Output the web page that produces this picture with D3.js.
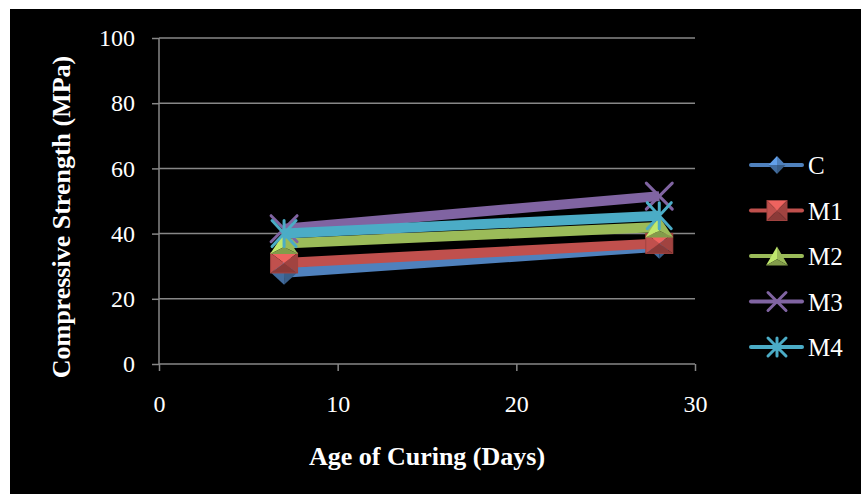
<!DOCTYPE html>
<html>
<head>
<meta charset="utf-8">
<script src="https://cdn.jsdelivr.net/npm/d3@7/dist/d3.min.js"></script>
<style>
  html, body { margin: 0; padding: 0; background: #fff; }
  svg { display: block; }
</style>
</head>
<body>
<svg id="chart" width="861" height="494"></svg>
<script>
// Curing age (days) on the x axis
const days = [7, 28];
// Compressive strength (MPa) per mix
const seriesNames = ["C", "M1", "M2", "M3", "M4"];
const valuesC  = [28, 36];
const valuesM1 = [31, 37];
const valuesM2 = [37, 42];
const valuesM3 = [41.5, 51.5];
const valuesM4 = [40, 45.5];
// Axis ticks
const xTicks = [0, 10, 20, 30];
const yTicks = [0, 20, 40, 60, 80, 100];

const seriesValues = [valuesC, valuesM1, valuesM2, valuesM3, valuesM4];
const seriesColors = ["#4F81BD", "#C0504D", "#9BBB59", "#8064A2", "#4BACC6"];
const markerKinds = ["diamond", "square", "triangle", "cross", "star"];

const svg = d3.select("#chart");

// Black chart area inside a thin white margin
svg.append("rect").attr("x", 10).attr("y", 9).attr("width", 851).attr("height", 485).attr("fill", "#000");

const x = d3.scaleLinear().domain([0, 30]).range([159, 695]);
const y = d3.scaleLinear().domain([0, 100]).range([364, 38]);

const gridColor = "#878787";
const font = "'Liberation Serif', 'Times New Roman', serif";

// Horizontal gridlines
svg.append("g").selectAll("line").data(yTicks.filter(d => d > 0)).join("line")
  .attr("x1", x(0)).attr("x2", x(30))
  .attr("y1", d => y(d)).attr("y2", d => y(d))
  .attr("stroke", gridColor).attr("stroke-width", 1.5);

// Y axis
const yAxis = svg.append("g").attr("transform", `translate(${x(0)},0)`)
  .call(d3.axisLeft(y).tickValues(yTicks).tickSize(7).tickPadding(17));
yAxis.select(".domain").attr("stroke", gridColor).attr("stroke-width", 1.5).attr("d", `M-0,${y(100)}V${y(0)}`);
yAxis.selectAll(".tick line").attr("stroke", gridColor).attr("stroke-width", 1.5);
yAxis.selectAll(".tick text").attr("fill", "#fff").style("font-family", font).style("font-size", "24px");

// X axis
const xAxis = svg.append("g").attr("transform", `translate(0,${y(0)})`)
  .call(d3.axisBottom(x).tickValues(xTicks).tickSize(7).tickPadding(24));
xAxis.select(".domain").attr("stroke", gridColor).attr("stroke-width", 1.5).attr("d", `M${x(0)},0H${x(30)}`);
xAxis.selectAll(".tick line").attr("stroke", gridColor).attr("stroke-width", 1.5);
xAxis.selectAll(".tick text").attr("fill", "#fff").style("font-family", font).style("font-size", "24px")
  .attr("dy", "0.71em");

// Axis titles
svg.append("text").attr("x", (x(0) + x(30)) / 2).attr("y", 465)
  .attr("text-anchor", "middle").attr("fill", "#fff")
  .style("font-family", font).style("font-size", "26px").style("font-weight", "bold")
  .text("Age of Curing (Days)");
svg.append("text").attr("transform", "translate(70,217) rotate(-90)")
  .attr("text-anchor", "middle").attr("fill", "#fff")
  .style("font-family", font).style("font-size", "26px").style("font-weight", "bold")
  .text("Compressive Strength (MPa)");

// Colour shades for the bevelled markers
function shades(c) {
  const base = d3.color(c);
  return {
    light: base.brighter(0.6).formatHex(),
    mid: base.formatHex(),
    dark: base.darker(0.5).formatHex(),
    darker: base.darker(0.9).formatHex()
  };
}

// Draw one marker centred at (cx, cy) with width w and height h
function drawMarker(g, kind, color, cx, cy, w, h) {
  const s = shades(color);
  const hw = w / 2, hh = h / 2;
  const m = g.append("g").attr("transform", `translate(${cx},${cy})`);
  const facet = (pts, fill) => m.append("path").attr("d", "M" + pts.map(p => p.join(",")).join("L") + "Z").attr("fill", fill);
  if (kind === "diamond") {
    facet([[0, -hh], [0, 0], [-hw, 0]], s.light);
    facet([[0, -hh], [hw, 0], [0, 0]], s.mid);
    facet([[-hw, 0], [0, 0], [0, hh]], s.dark);
    facet([[0, 0], [hw, 0], [0, hh]], s.darker);
  } else if (kind === "square") {
    facet([[-hw, -hh], [hw, -hh], [0, 0]], s.light);
    facet([[-hw, -hh], [0, 0], [-hw, hh]], s.mid);
    facet([[hw, -hh], [hw, hh], [0, 0]], s.dark);
    facet([[-hw, hh], [0, 0], [hw, hh]], s.darker);
    m.append("rect").attr("x", -hw).attr("y", -hh).attr("width", w).attr("height", h)
      .attr("fill", "none").attr("stroke", s.dark).attr("stroke-width", 1);
  } else if (kind === "triangle") {
    facet([[0, -hh], [0, hh * 0.35], [-hw, hh]], s.light);
    facet([[0, -hh], [hw, hh], [0, hh * 0.35]], s.mid);
    facet([[-hw, hh], [0, hh * 0.35], [hw, hh]], s.dark);
  } else if (kind === "cross") {
    m.append("path").attr("d", `M${-hw},${-hh}L${hw},${hh}M${hw},${-hh}L${-hw},${hh}`)
      .attr("stroke", color).attr("stroke-width", 3).attr("stroke-linecap", "round");
  } else if (kind === "star") {
    m.append("path").attr("d", `M${-hw},${-hh}L${hw},${hh}M${hw},${-hh}L${-hw},${hh}M0,${-hh}L0,${hh}`)
      .attr("stroke", color).attr("stroke-width", 3).attr("stroke-linecap", "round");
  }
}

const markerSize = {
  diamond: [26, 24], square: [27, 20], triangle: [28, 21], cross: [26, 26], star: [24, 26]
};

const line = d3.line().x(d => x(d[0])).y(d => y(d[1]));

// Series: line, then its markers
seriesNames.forEach((name, i) => {
  const g = svg.append("g").attr("class", "series-" + name);
  const pts = days.map((d, j) => [d, seriesValues[i][j]]);
  g.append("path").attr("d", line(pts)).attr("fill", "none")
    .attr("stroke", seriesColors[i]).attr("stroke-width", 10);
  pts.forEach(p => {
    const [w, h] = markerSize[markerKinds[i]];
    drawMarker(g, markerKinds[i], seriesColors[i], x(p[0]), y(p[1]), w, h);
  });
});

// Legend
const legendSize = {
  diamond: [17, 18], square: [20, 20], triangle: [22, 19], cross: [18, 18], star: [18, 18]
};
const legendY = d3.scaleLinear().domain([0, 4]).range([165, 347]);
seriesNames.forEach((name, i) => {
  const ly = legendY(i);
  const g = svg.append("g");
  g.append("line").attr("x1", 751).attr("x2", 802).attr("y1", ly).attr("y2", ly)
    .attr("stroke", seriesColors[i]).attr("stroke-width", 4).attr("stroke-linecap", "round");
  const [w, h] = legendSize[markerKinds[i]];
  drawMarker(g, markerKinds[i], seriesColors[i], 777, ly, w, h);
  g.append("text").attr("x", 808).attr("y", ly + 9).attr("fill", "#fff")
    .style("font-family", font).style("font-size", "25px").text(name);
});
</script>
</body>
</html>
